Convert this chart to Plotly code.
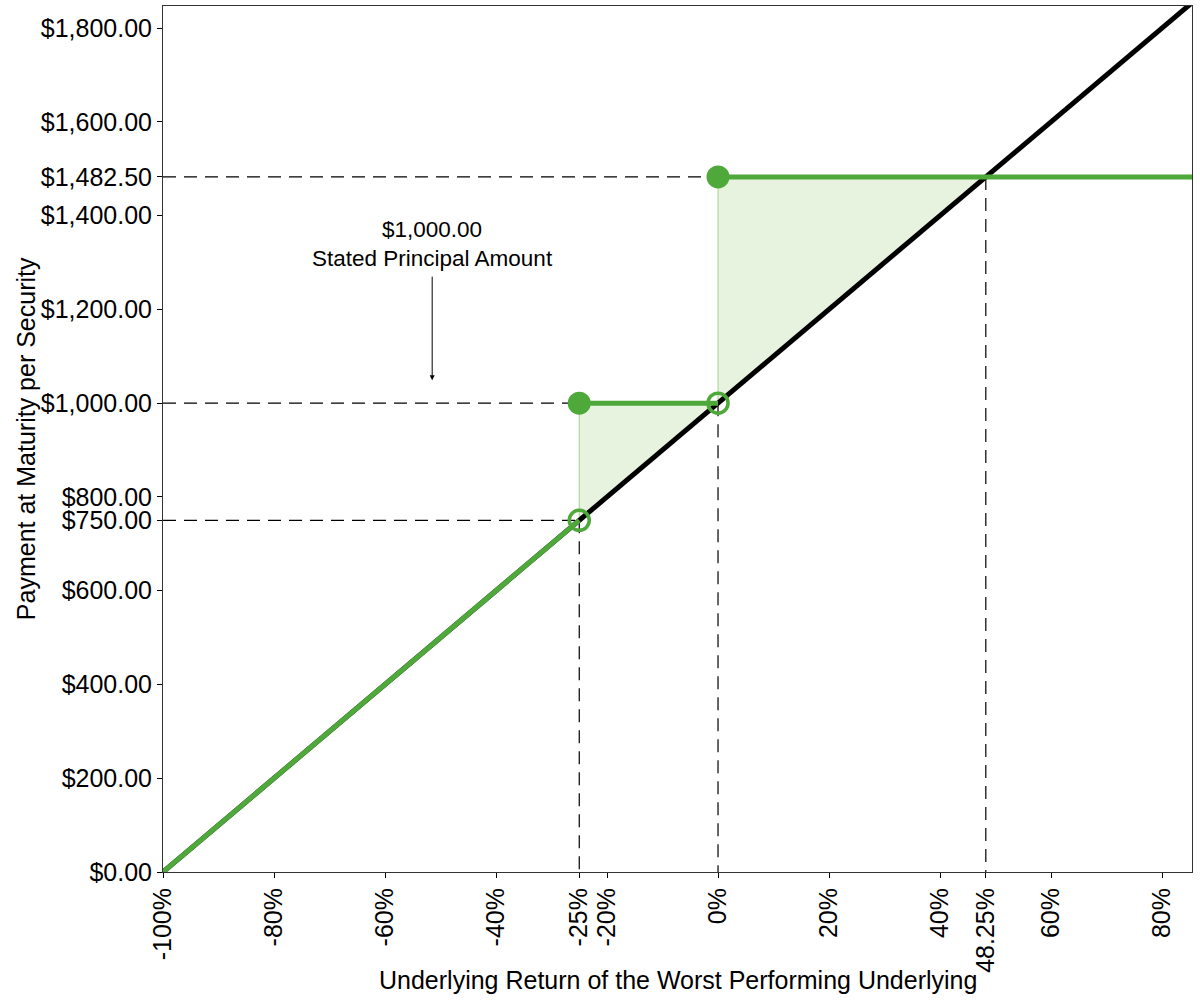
import plotly.graph_objects as go

# underlying return (fraction) and payment values
x_min, x_max = -1.0, 0.854
y_max = 1847

buffer_level = -0.25
cap_start = 0.0
breakeven = 0.4825
principal = 1000.0
max_payment = 1482.5
buffer_payment = 750.0

x_tickvals = [-1.0, -0.8, -0.6, -0.4, -0.25, -0.2, 0.0, 0.2, 0.4, 0.4825, 0.6, 0.8]
x_ticktext = ["-100%", "-80%", "-60%", "-40%", "-25%", "-20%", "0%", "20%", "40%",
              "48.25%", "60%", "80%"]
y_tickvals = [0, 200, 400, 600, 750, 800, 1000, 1200, 1400, 1482.5, 1600, 1800]
y_ticktext = ["$0.00", "$200.00", "$400.00", "$600.00", "$750.00", "$800.00",
              "$1,000.00", "$1,200.00", "$1,400.00", "$1,482.50", "$1,600.00",
              "$1,800.00"]

GREEN = "#4ea93a"
FILL = "rgba(214,234,196,0.55)"

fig = go.Figure()

# shaded outperformance area
fig.add_trace(go.Scatter(
    x=[buffer_level, buffer_level, cap_start, cap_start, breakeven, buffer_level],
    y=[buffer_payment, principal, principal, max_payment, max_payment, buffer_payment],
    fill="toself", fillcolor=FILL, mode="lines",
    line=dict(color="rgba(140,205,110,0.8)", width=1),
    hoverinfo="skip", showlegend=False,
))

# dashed reference lines
dash_x = [x_min, cap_start, None, x_min, buffer_level, None, x_min, buffer_level, None,
          buffer_level, buffer_level, None, cap_start, cap_start, None,
          breakeven, breakeven]
dash_y = [max_payment, max_payment, None, principal, principal, None,
          buffer_payment, buffer_payment, None, buffer_payment, 0, None,
          principal, 0, None, max_payment, 0]
fig.add_trace(go.Scatter(
    x=dash_x, y=dash_y, mode="lines",
    line=dict(color="black", width=1.2, dash="13px,8px"),
    hoverinfo="skip", showlegend=False,
))

# underlying return line
fig.add_trace(go.Scatter(
    x=[x_min, x_max], y=[0, principal * (1 + x_max)], mode="lines",
    line=dict(color="black", width=5), showlegend=False,
))

# security payoff
fig.add_trace(go.Scatter(
    x=[x_min, buffer_level, None, buffer_level, cap_start, None, cap_start, x_max],
    y=[0, buffer_payment, None, principal, principal, None, max_payment, max_payment],
    mode="lines", line=dict(color=GREEN, width=5), showlegend=False,
))

fig.add_trace(go.Scatter(
    x=[buffer_level, cap_start], y=[buffer_payment, principal], mode="markers",
    marker=dict(symbol="circle-open", size=20, color=GREEN, line=dict(width=3.5)),
    showlegend=False,
))
fig.add_trace(go.Scatter(
    x=[buffer_level, cap_start], y=[principal, max_payment], mode="markers",
    marker=dict(symbol="circle", size=23, color=GREEN),
    showlegend=False,
))

# stated principal callout
fig.add_annotation(
    x=-0.515, y=1049, ax=0, ay=-105, axref="pixel", ayref="pixel",
    text="", showarrow=True, arrowhead=2, arrowsize=1, arrowwidth=1,
    arrowcolor="black",
)
fig.add_annotation(
    x=-0.515, y=1339, text="$1,000.00<br>Stated Principal Amount",
    showarrow=False, font=dict(size=22.5, color="black"), yanchor="middle",
)

# axis titles
fig.add_annotation(
    x=0.5, y=-0.1247, xref="paper", yref="paper", showarrow=False,
    text="Underlying Return of the Worst Performing Underlying",
    font=dict(size=25), yanchor="middle",
)
fig.add_annotation(
    x=-0.133, y=0.5, xref="paper", yref="paper", showarrow=False,
    text="Payment at Maturity per Security", textangle=-90,
    font=dict(size=25), xanchor="center",
)

fig.update_layout(
    width=1200, height=1000,
    margin=dict(l=163, r=8, t=6, b=128),
    paper_bgcolor="white", plot_bgcolor="white",
    font=dict(family="Liberation Sans, Arial, sans-serif", color="black"),
)
fig.update_xaxes(
    range=[x_min, x_max], tickvals=x_tickvals, ticktext=x_ticktext,
    tickangle=-90, tickfont=dict(size=25), ticks="outside", ticklen=5,
    tickcolor="black", showgrid=False, zeroline=False, automargin=False,
    showline=True, linecolor="#333", linewidth=1, mirror=True,
)
fig.update_yaxes(
    range=[0, y_max], tickvals=y_tickvals, ticktext=y_ticktext,
    tickfont=dict(size=25), ticks="outside", ticklen=5, tickcolor="black",
    showgrid=False, zeroline=False, automargin=False,
    showline=True, linecolor="#333", linewidth=1, mirror=True,
)

# drop the default page margin so the figure sits at the window's corner
fig.write_html(
    "out.html",
    config={"displayModeBar": False},
    post_script="document.body.style.margin='0';",
)
